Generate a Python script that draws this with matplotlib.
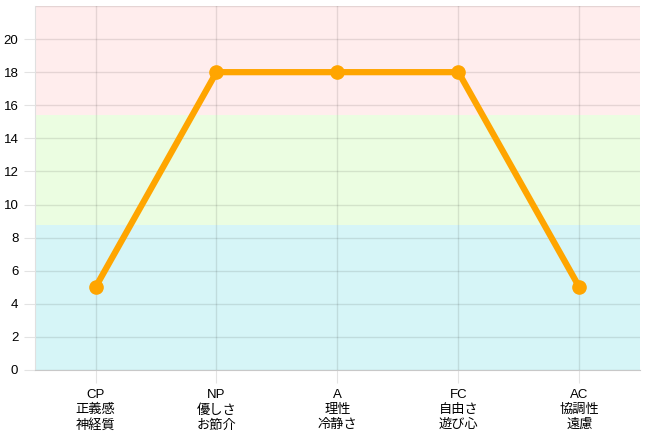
import numpy as np
import matplotlib.pyplot as plt

plt.rcParams['font.family'] = ['Liberation Sans', 'Noto Sans CJK JP', 'DejaVu Sans']

# データ
categories = ['CP\n正義感\n神経質', 'NP\n優しさ\nお節介', 'A\n理性\n冷静さ',
              'FC\n自由さ\n遊び心', 'AC\n協調性\n遠慮']
scores = [5, 18, 18, 18, 5]
bands = [(0, 8.75, '#d6f5f7'), (8.75, 15.4, '#ebfde1'), (15.4, 22, '#ffeded')]
y_ticks = list(range(0, 22, 2))

fig = plt.figure(figsize=(6.61, 4.43), dpi=100)
ax = fig.add_axes([0.053, 0.1648, 0.915, 0.8217])

for lo, hi, c in bands:
    ax.axhspan(lo, hi, color=c, zorder=0, linewidth=0)

x = np.arange(len(categories))
ax.plot(x, scores, color='#ffa500', linewidth=4.5, marker='o', markersize=9.5,
        solid_capstyle='round', zorder=3, clip_on=False)

ax.set_xlim(-0.5, len(categories) - 0.5)
ax.set_ylim(0, 22)
ax.set_yticks(y_ticks)
ax.set_xticks(x)
ax.set_xticklabels(categories, fontsize=9.5, linespacing=1.3)
ax.tick_params(axis='y', labelsize=9.5, length=8, color='#e3e3e3', pad=4)
ax.tick_params(axis='x', length=9, color='#e3e3e3', pad=5)
ax.grid(True, color='#000000', alpha=0.1, linewidth=1, zorder=1)
ax.axhline(22, color='#000000', alpha=0.1, linewidth=1, zorder=1)

for s in ['top', 'right']:
    ax.spines[s].set_visible(False)
ax.spines['left'].set_color('#e0e0e0')
ax.spines['bottom'].set_color('#c8c8c8')

fig.savefig('out.png', dpi=100)
